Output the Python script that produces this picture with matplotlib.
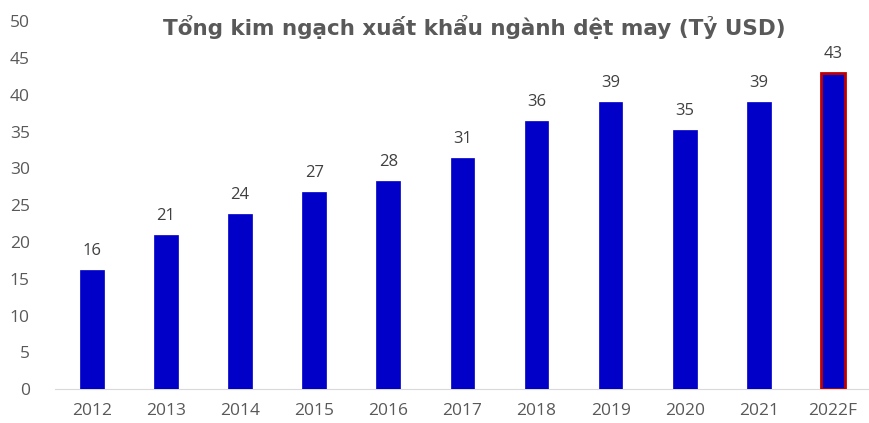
import matplotlib
matplotlib.use("Agg")
import matplotlib.pyplot as plt

years = ["2012", "2013", "2014", "2015", "2016", "2017", "2018", "2019", "2020", "2021", "2022F"]
values = [16.2, 20.9, 23.8, 26.8, 28.3, 31.4, 36.4, 39.0, 35.2, 39.0, 43.0]
labels = ["16", "21", "24", "27", "28", "31", "36", "39", "35", "39", "43"]
y_ticks = [0, 5, 10, 15, 20, 25, 30, 35, 40, 45, 50]

text_color = "#595959"
bar_color = "#0000C8"

fig = plt.figure(figsize=(8.7, 4.23), dpi=100)
ax = fig.add_axes([0.063, 0.080, 0.937, 0.870])

x = range(len(years))
edges = [bar_color] * (len(years) - 1) + ["#C00000"]
widths = [0.5] * (len(years) - 1) + [2.0]
ax.bar(x, values, width=0.32, color=bar_color, edgecolor=edges, linewidth=widths, zorder=3)

for i, (v, lab) in enumerate(zip(values, labels)):
    ax.annotate(lab, (i, v), xytext=(0, 8), textcoords="offset points",
                ha="center", va="bottom", fontsize=12, color="#404040",
                family="Open Sans")

ax.set_xlim(-0.5, len(years) - 0.5)
ax.set_ylim(0, 50)
ax.set_yticks(y_ticks)
ax.set_xticks(list(x))
ax.set_xticklabels(years)
for lbl in ax.get_xticklabels() + ax.get_yticklabels():
    lbl.set_family("Open Sans")
    lbl.set_fontsize(12.5)
    lbl.set_color(text_color)
ax.tick_params(axis="both", length=0)
ax.tick_params(axis="x", pad=10)
ax.tick_params(axis="y", pad=18)

for side in ["top", "right", "left"]:
    ax.spines[side].set_visible(False)
ax.spines["bottom"].set_color("#D9D9D9")

fig.text(0.545, 0.935, "Tổng kim ngạch xuất khẩu ngành dệt may (Tỷ USD)",
         ha="center", va="center", fontsize=15.5, fontweight="bold", color=text_color)

fig.savefig("out.png", dpi=100)
